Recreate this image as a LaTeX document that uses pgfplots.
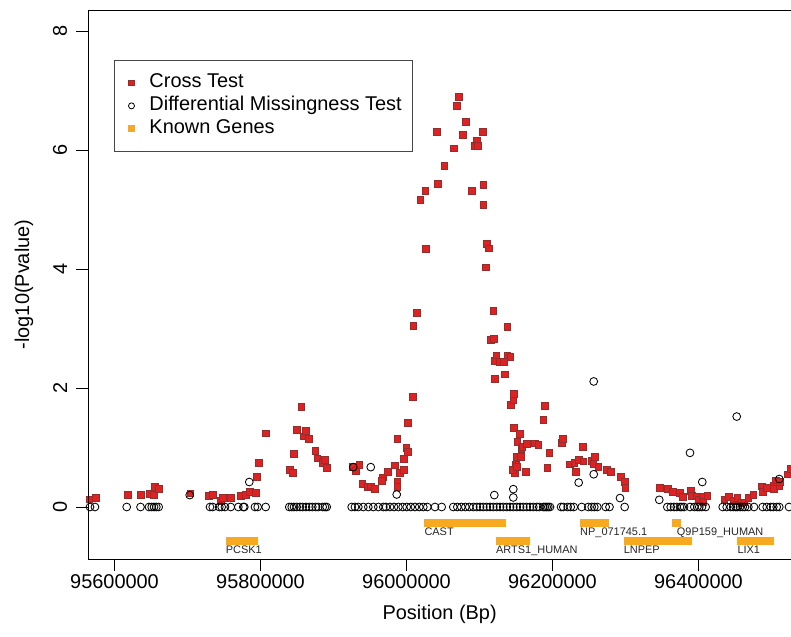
\documentclass[border=0pt]{standalone}
\usepackage{fontspec}
\setmainfont{Liberation Sans}
\usepackage{pgfplots}
\pgfplotsset{compat=1.18}
\usetikzlibrary{calc}
\definecolor{crossred}{RGB}{220,34,34}
\definecolor{crossedge}{RGB}{150,45,45}
\definecolor{geneorange}{RGB}{247,170,32}
\definecolor{legframe}{RGB}{70,70,70}
\begin{document}
\begin{tikzpicture}
\begin{axis}[
  scale only axis, width=702.7bp, height=549bp,
  xmin=95564066, xmax=96526765, ymin=-0.874, ymax=8.353,
  clip mode=individual,
  axis line style={draw=none},
  tick pos=left, tick align=outside, major tick length=12bp,
  tick style={black, line width=0.8bp},
  xtick={95600000,95800000,96000000,96200000,96400000},
  ytick={0,2,4,6,8},
  scaled x ticks=false,
  xticklabel style={/pgf/number format/fixed, /pgf/number format/precision=0, /pgf/number format/1000 sep={}},
  /pgf/number format/assume math mode=true,
  ticklabel style={font=\fontsize{20}{24}\selectfont},
  yticklabel style={rotate=90, anchor=south, inner ysep=9bp},
  xlabel={Position (Bp)}, ylabel={-log10(Pvalue)},
  label style={font=\fontsize{20}{24}\selectfont},
  xlabel style={at={(axis description cs:0.5,-0.101)}, anchor=center},
  ylabel style={at={(axis description cs:-0.0915,0.5)}, anchor=center},
  legend style={at={(0.037,0.909)}, anchor=north west, draw=legframe, line width=0.8bp,
    inner xsep=7bp, inner ysep=13.5bp, row sep=5bp,
    font=\fontsize{20}{24}\selectfont,
    nodes={inner xsep=4bp, inner ysep=0pt, text height=14bp, text depth=4bp}},
  legend cell align=left,
]
\coordinate (bl) at (rel axis cs:0,0);
\coordinate (tr) at (rel axis cs:1,1);

% Known genes (bars)
\addplot[geneorange, line width=8bp, forget plot] coordinates {(95752300,-0.571) (95796200,-0.571)};
\addplot[geneorange, line width=8bp, forget plot] coordinates {(96024400,-0.274) (96136300,-0.274)};
\addplot[geneorange, line width=8bp, forget plot] coordinates {(96122600,-0.571) (96169600,-0.571)};
\addplot[geneorange, line width=8bp, forget plot] coordinates {(96237700,-0.274) (96277400,-0.274)};
\addplot[geneorange, line width=8bp, forget plot] coordinates {(96363700,-0.274) (96375600,-0.274)};
\addplot[geneorange, line width=8bp, forget plot] coordinates {(96297500,-0.571) (96390700,-0.571)};
\addplot[geneorange, line width=8bp, forget plot] coordinates {(96453200,-0.571) (96503400,-0.571)};

% Cross test
\addplot[only marks, mark=square*, mark size=3.4bp, mark options={fill=crossred, draw=crossedge, line width=0.5bp}, forget plot] table {
x y
95565400 0.13
95574600 0.16
95617800 0.20
95636300 0.21
95648600 0.22
95653400 0.21
95655400 0.34
95660900 0.31
95703800 0.23
95729400 0.19
95734900 0.21
95745900 0.11
95748600 0.15
95759200 0.15
95772600 0.19
95779400 0.21
95785600 0.26
95793800 0.24
95794800 0.51
95797500 0.75
95807500 1.24
95840400 0.62
95844100 0.58
95845900 0.90
95849300 1.30
95855900 1.69
95859600 1.19
95862300 1.28
95866400 1.15
95875100 0.94
95877800 0.82
95885200 0.75
95887700 0.79
95891100 0.66
95926300 0.67
95930800 0.61
95935300 0.71
95939400 0.39
95946300 0.34
95951000 0.35
95956800 0.31
95967100 0.50
95965800 0.44
95974700 0.59
95984200 0.70
95987400 1.15
95987400 0.43
95987400 0.34
95991100 0.58
95996600 0.81
95996600 0.62
95999700 0.99
96002100 0.93
96001400 1.41
96008500 1.85
96009300 3.04
96014400 3.27
96018900 5.16
96025800 5.31
96026700 4.34
96041400 6.30
96042700 5.43
96051800 5.74
96064700 6.03
96068800 6.74
96071900 6.89
96077400 6.25
96081100 6.48
96089700 5.31
96093800 6.07
96096600 6.16
96098000 6.07
96104400 6.30
96105200 5.41
96105200 5.08
96108500 4.03
96109900 4.43
96112600 4.35
96115400 2.81
96118900 3.30
96119500 2.83
96120800 2.15
96121200 2.46
96123000 2.55
96127100 2.44
96133200 2.44
96134500 2.23
96138100 3.03
96138100 2.55
96142200 2.52
96143200 1.72
96146300 1.80
96146900 1.33
96147300 1.90
96148600 0.57
96145500 0.63
96150000 0.72
96151000 0.68
96151500 0.85
96151800 1.09
96155500 1.23
96156000 0.85
96157300 0.97
96158600 1.01
96163700 0.59
96165100 1.06
96176000 1.07
96180600 1.04
96187400 1.46
96189700 1.70
96192900 0.66
96195600 0.91
96212600 1.08
96214000 1.15
96224000 0.72
96229900 0.74
96231800 0.59
96236300 0.79
96241400 1.01
96242200 0.77
96253200 0.78
96255900 0.73
96257800 0.84
96262800 0.68
96274300 0.63
96280200 0.59
96293900 0.51
96299300 0.43
96299800 0.32
96347300 0.32
96357800 0.30
96364700 0.26
96374700 0.24
96378400 0.17
96389400 0.27
96390700 0.19
96397600 0.18
96400300 0.12
96405800 0.18
96406600 0.09
96412100 0.19
96435400 0.13
96441800 0.17
96448700 0.11
96453200 0.15
96458700 0.07
96462800 0.08
96468300 0.15
96475100 0.20
96486600 0.35
96488000 0.26
96493500 0.32
96502500 0.36
96503000 0.30
96506200 0.45
96510700 0.36
96511200 0.43
96522200 0.55
96526100 0.64
};

% Differential missingness test
\addplot[only marks, mark=o, mark size=3.9bp, mark options={draw=black, line width=0.85bp}, forget plot] table {
x y
95566400 0
95573200 0
95616700 0
95635600 0
95647200 0
95650900 0
95654100 0
95657200 0
95660500 0
95730800 0
95734500 0
95743500 0
95746800 0
95751300 0
95759200 0
95769600 0
95776400 0
95777800 0
95792400 0
95796100 0
95807100 0
95839400 0
95842700 0
95845900 0
95849600 0
95854100 0
95857800 0
95862300 0
95866800 0
95870900 0
95875600 0
95879200 0
95885200 0
95888300 0
95890700 0
95924900 0
95929400 0
95934000 0
95940800 0
95947700 0
95954500 0
95961400 0
95968200 0
95971900 0
95977400 0
95982900 0
95988800 0
95994800 0
96000300 0
96005800 0
96011600 0
96017500 0
96023000 0
96028500 0
96039000 0
96048200 0
96064100 0
96069600 0
96075100 0
96080600 0
96086000 0
96091500 0
96096200 0
96100700 0
96105200 0
96109900 0
96114400 0
96118900 0
96123600 0
96128100 0
96132600 0
96137300 0
96141800 0
96146300 0
96151000 0
96155500 0
96160000 0
96164700 0
96169200 0
96173700 0
96178400 0
96181900 0
96187400 0
96189700 0
96192100 0
96194300 0
96196600 0
96211700 0
96214800 0
96220800 0
96225000 0
96229100 0
96240000 0
96249100 0
96253700 0
96257300 0
96261400 0
96272900 0
96278100 0
96298900 0
96357300 0
96362000 0
96366500 0
96370200 0
96374700 0
96377000 0
96380200 0
96388400 0
96394300 0
96398400 0
96401100 0
96404800 0
96409900 0
96433200 0
96438700 0
96444200 0
96447700 0
96451000 0
96453200 0
96456900 0
96460600 0
96463700 0
96468300 0
96476100 0
96488000 0
96493500 0
96499000 0
96502500 0
96507200 0
96510700 0
96524000 0
95703000 0.20
95784600 0.42
95927100 0.67
95951000 0.67
95986600 0.21
96120300 0.20
96146300 0.30
96146300 0.16
96235900 0.41
96256500 2.11
96256500 0.55
96292500 0.15
96346300 0.12
96388400 0.91
96405200 0.42
96452400 1.52
96510700 0.47
};

% legend
\addlegendimage{legend image code/.code={\path (0bp,0bp) (23bp,0bp); \node[draw=crossedge, fill=crossred, line width=0.5bp, minimum size=5.5bp, inner sep=0pt, text height=0pt, text depth=0pt] at (6bp,0bp) {};}}
\addlegendentry{Cross Test}
\addlegendimage{legend image code/.code={\path (0bp,0bp) (23bp,0bp); \node[draw=black, circle, line width=0.8bp, minimum size=6bp, inner sep=0pt, text height=0pt, text depth=0pt] at (6bp,0bp) {};}}
\addlegendentry{Differential Missingness Test}
\addlegendimage{legend image code/.code={\path (0bp,0bp) (23bp,0bp); \node[fill=geneorange, minimum size=7bp, inner sep=0pt, text height=0pt, text depth=0pt] at (6bp,0bp) {};}}
\addlegendentry{Known Genes}

% gene labels
\begin{scope}[every node/.style={anchor=north west, inner sep=0pt, font=\fontsize{11}{13}\selectfont, text=black!85}]
\node at (axis cs:95752300,-0.655) {PCSK1};
\node at (axis cs:96024400,-0.353) {CAST};
\node at (axis cs:96122600,-0.655) {ARTS1\_HUMAN};
\node at (axis cs:96237700,-0.353) {NP\_071745.1};
\node at (axis cs:96370200,-0.353) {Q9P159\_HUMAN};
\node at (axis cs:96297500,-0.655) {LNPEP};
\node at (axis cs:96453200,-0.655) {LIX1};
\end{scope}
\end{axis}
\draw[line width=0.8bp, black] (tr) -| (bl) -- (bl -| tr);
\pgfresetboundingbox
\path[use as bounding box] ($(bl)+(-88.3bp,-78bp)$) rectangle ($(tr)+(0bp,10bp)$);
\end{tikzpicture}
\end{document}
